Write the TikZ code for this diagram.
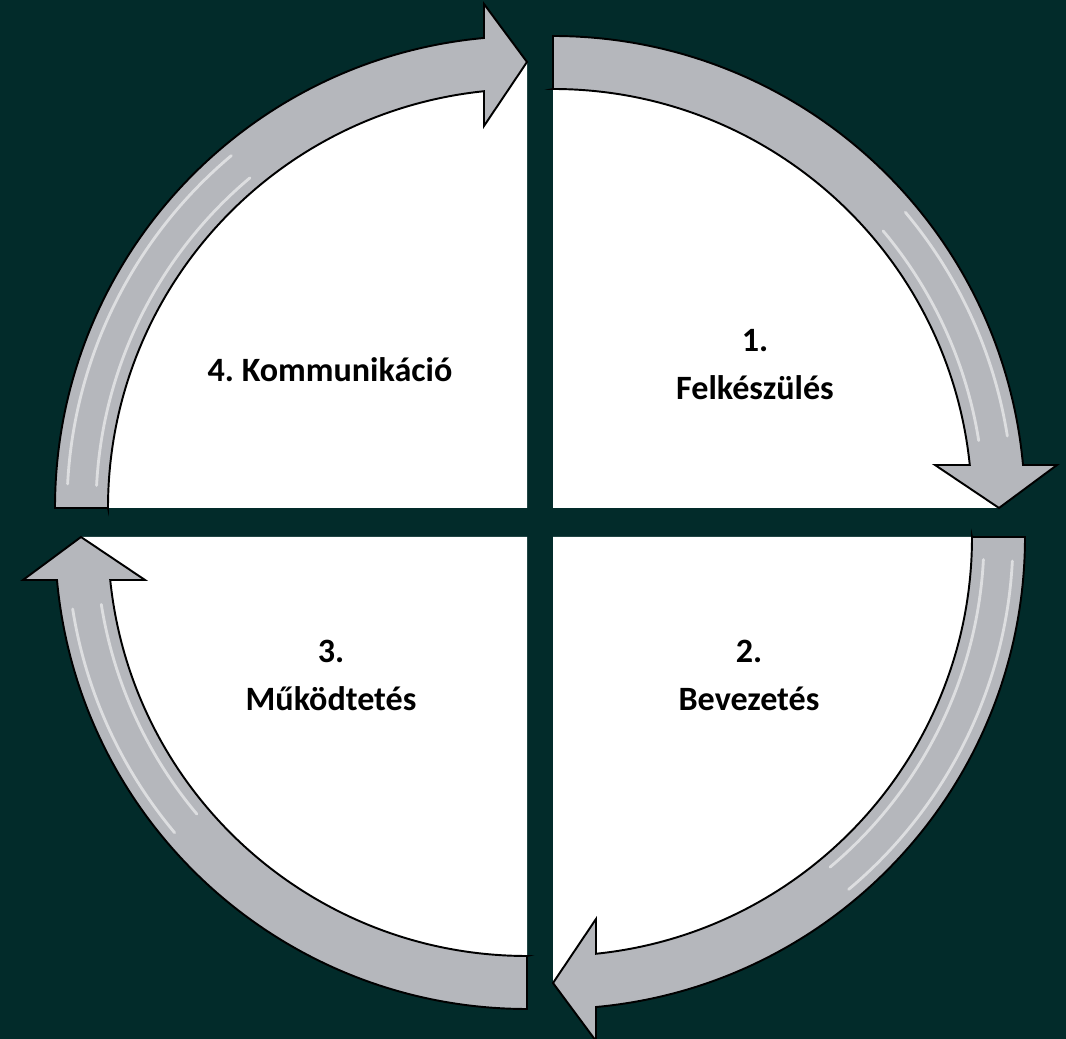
\documentclass[tikz,border=0pt]{standalone}
\usepackage{fontspec}
\setmainfont{Carlito}
\usepackage{tikz}
\usetikzlibrary{positioning}
\definecolor{bgteal}{RGB}{2,43,42}
\definecolor{bandgray}{RGB}{181,183,188}
\tikzset{
    band/.style={fill=bandgray, draw=black, line width=1.1pt, line join=miter},
    sector/.style={fill=white},
    glint/.style={white, opacity=0.55, line width=1.6pt, line cap=round},
    quadtext/.style={font=\bfseries\fontsize{19.4}{23}\selectfont, anchor=base}
}
\frenchspacing

\begin{document}
\begin{tikzpicture}
                        \fill[bgteal] (0,0) rectangle (21.32,20.78);
                        \useasboundingbox (0,0) rectangle (21.32,20.78);
                        % one quarter per step, turned round the centre gap
                        \foreach \cx/\cy/\rot/\sa/\ea in {11.06/10.62/0/40/9, 11.06/10.04/-90/87/40, 10.54/10.04/180/40/9, 10.54/10.62/90/87/40}{
                            \begin{scope}[shift={(\cx,\cy)}, rotate=\rot]
                                \fill[sector] (0,0) -- (0,8.92) arc[start angle=90, end angle=0, radius=8.92] -- cycle;
                                \draw[band] (0,8.38) -- (0,9.44) arc[start angle=90, end angle=5.23, radius=9.44] -- (10.08,0.86) -- (8.92,0) -- (7.64,0.86) -- (5.89:8.38) arc[start angle=5.89, end angle=90, radius=8.38] -- cycle;
                                \draw[glint] (\sa:8.62) arc[start angle=\sa, end angle=\ea, radius=8.62];
                                \draw[glint] (\sa:9.2) arc[start angle=\sa, end angle=\ea, radius=9.2];
                            \end{scope}
                        }
                        \node[quadtext] (num1) at (15.1, 13.74) {1.};
                        \node[quadtext] (name1) at (15.1, 12.78) {Felkészülés};
                        \node[quadtext] (num2) at (14.98, 7.52) {2.};
                        \node[quadtext] (name2) at (14.98, 6.56) {Bevezetés};
                        \node[quadtext] (num3) at (6.62, 7.52) {3.};
                        \node[quadtext] (name3) at (6.62, 6.56) {Működtetés};
                        \node[quadtext] (name4) at (6.6, 13.14) {4. Kommunikáció};
                    \end{tikzpicture}
\end{document}
